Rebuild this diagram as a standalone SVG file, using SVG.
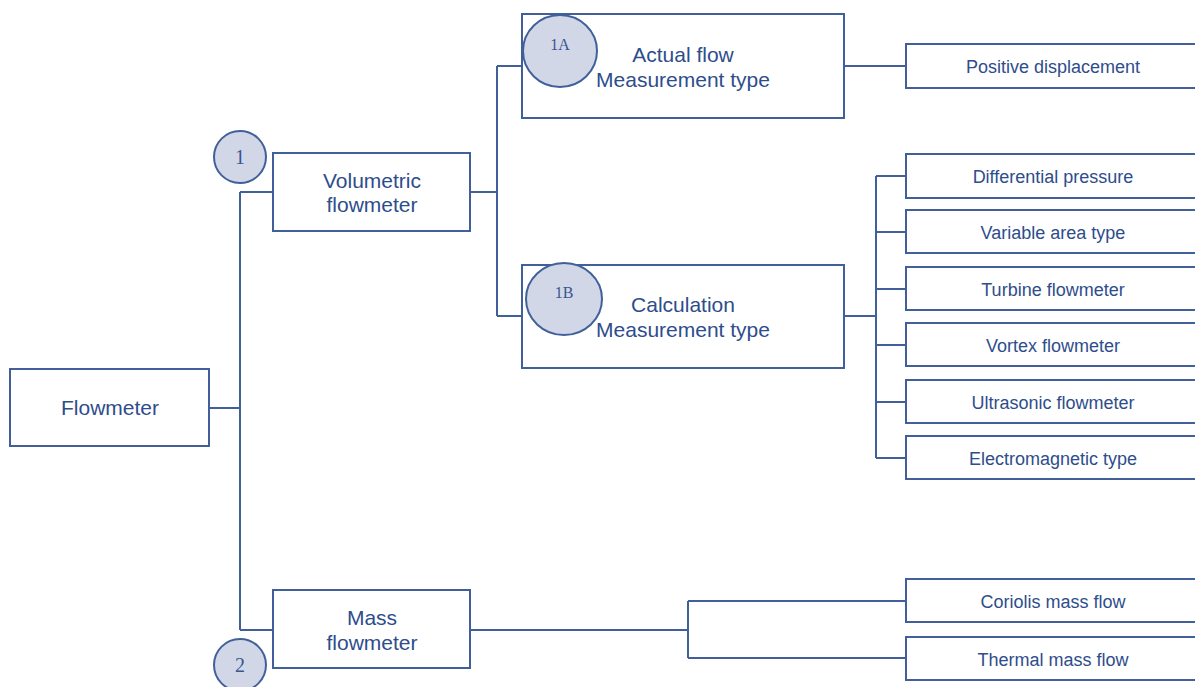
<svg xmlns="http://www.w3.org/2000/svg" width="1195" height="687" viewBox="0 0 1195 687">
<style>
.box{fill:#fff;stroke:#41609a;stroke-width:2}
.leaf{fill:#fff;stroke:#41609a;stroke-width:2}
.c{fill:#d1d7e7;stroke:#41609a;stroke-width:2}
.t{font-family:"Liberation Sans",Arial,sans-serif;font-size:21px;fill:#2e4d8c;text-anchor:middle}
.lt{font-family:"Liberation Sans",Arial,sans-serif;font-size:18px;fill:#2e4d8c;text-anchor:middle}
.ct{font-family:"Liberation Serif","Times New Roman",serif;font-size:20px;fill:#3a5590;text-anchor:middle}
.cs{font-family:"Liberation Serif","Times New Roman",serif;font-size:16px;fill:#3a5590;text-anchor:middle}
.ln{fill:none;stroke:#41609a;stroke-width:2}
</style>
<g id="connectors">
<path class="ln" d="M209,408 H240 M240,192 V630 M240,192 H273 M240,630 H273"/>
<path class="ln" d="M470,192 H497 M497,66 V316 M497,66 H522 M497,316 H522"/>
<path class="ln" d="M844,66 H906"/>
<path class="ln" d="M844,316 H876 M876,176 V458 M876,176 H906 M876,232 H906 M876,289 H906 M876,345 H906 M876,402 H906 M876,458 H906"/>
<path class="ln" d="M470,630 H688 M688,601 V658 M688,601 H906 M688,658 H906"/>
</g>
<g id="flowmeter"><rect class="box" x="10" y="369" width="199" height="77"/><text class="t" x="110" y="415">Flowmeter</text></g>
<g id="volumetric"><rect class="box" x="273" y="153" width="197" height="78"/><text class="t" x="372" y="188">Volumetric</text><text class="t" x="372" y="212">flowmeter</text></g>
<g id="circle1"><circle class="c" cx="240" cy="157" r="26"/><text class="ct" x="240" y="164">1</text></g>
<g id="mass"><rect class="box" x="273" y="590" width="197" height="78"/><text class="t" x="372" y="625">Mass</text><text class="t" x="372" y="650">flowmeter</text></g>
<g id="circle2"><circle class="c" cx="240" cy="665" r="26"/><text class="ct" x="240" y="672">2</text></g>
<g id="actual"><rect class="box" x="522" y="14" width="322" height="104"/><text class="t" x="683" y="62">Actual flow</text><text class="t" x="683" y="87">Measurement type</text></g>
<g id="circle1A"><ellipse class="c" cx="560" cy="51" rx="37" ry="36"/><text class="cs" x="560" y="50">1A</text></g>
<g id="calculation"><rect class="box" x="522" y="265" width="322" height="103"/><text class="t" x="683" y="312">Calculation</text><text class="t" x="683" y="337">Measurement type</text></g>
<g id="circle1B"><ellipse class="c" cx="564" cy="299" rx="38" ry="36"/><text class="cs" x="564" y="298">1B</text></g>
<g id="positive"><rect class="leaf" x="906" y="44" width="295" height="44"/><text class="lt" x="1053" y="73">Positive displacement</text></g>
<g id="differential"><rect class="leaf" x="906" y="154" width="295" height="44"/><text class="lt" x="1053" y="183">Differential pressure</text></g>
<g id="variable"><rect class="leaf" x="906" y="210" width="295" height="43"/><text class="lt" x="1053" y="239">Variable area type</text></g>
<g id="turbine"><rect class="leaf" x="906" y="267" width="295" height="43"/><text class="lt" x="1053" y="296">Turbine flowmeter</text></g>
<g id="vortex"><rect class="leaf" x="906" y="323" width="295" height="43"/><text class="lt" x="1053" y="352">Vortex flowmeter</text></g>
<g id="ultrasonic"><rect class="leaf" x="906" y="380" width="295" height="43"/><text class="lt" x="1053" y="409">Ultrasonic flowmeter</text></g>
<g id="electromagnetic"><rect class="leaf" x="906" y="436" width="295" height="43"/><text class="lt" x="1053" y="465">Electromagnetic type</text></g>
<g id="coriolis"><rect class="leaf" x="906" y="579" width="295" height="43"/><text class="lt" x="1053" y="608">Coriolis mass flow</text></g>
<g id="thermal"><rect class="leaf" x="906" y="637" width="295" height="43"/><text class="lt" x="1053" y="666">Thermal mass flow</text></g>
</svg>
